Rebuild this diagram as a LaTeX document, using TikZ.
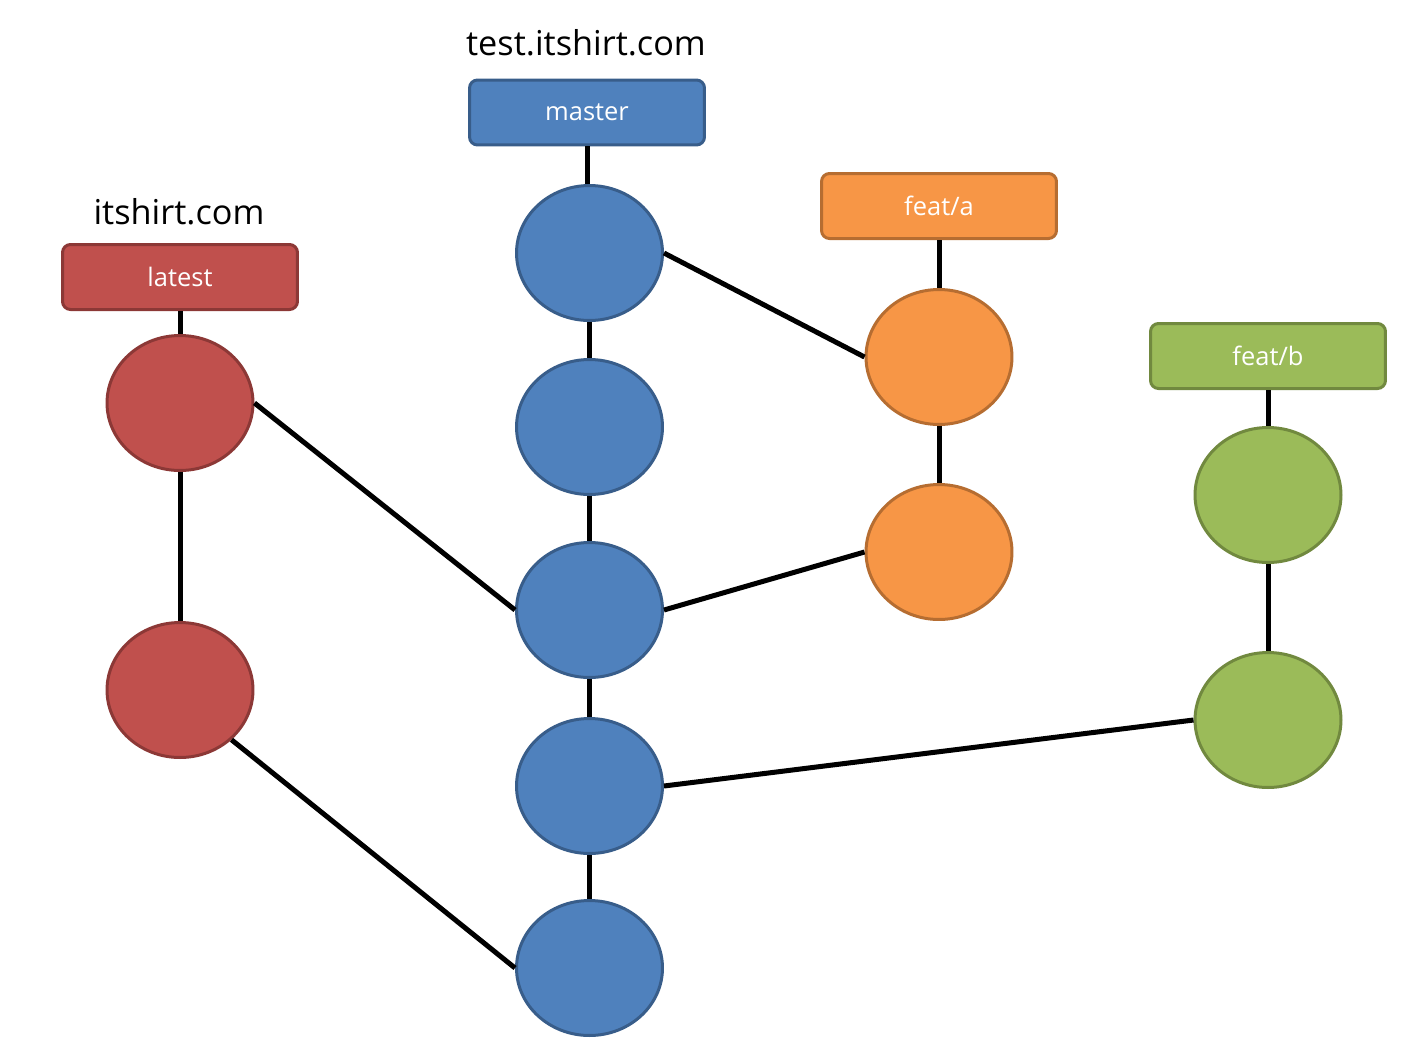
\documentclass[tikz,border=0pt]{standalone}
\usepackage{fontspec}
\setmainfont{Open Sans}
\usetikzlibrary{shapes.geometric}
\definecolor{bluef}{HTML}{4F81BD}\definecolor{blued}{HTML}{385D8A}
\definecolor{redf}{HTML}{C0504D}\definecolor{redd}{HTML}{8C3836}
\definecolor{orf}{HTML}{F79646}\definecolor{ord}{HTML}{B66D31}
\definecolor{grf}{HTML}{9BBB59}\definecolor{grd}{HTML}{71893F}
\tikzset{
  commit/.style={ellipse, draw=#1d, fill=#1f, line width=0.06cm, minimum width=2.92cm, minimum height=2.70cm, inner sep=0pt},
  branch/.style={rectangle, rounded corners=0.16cm, draw=#1d, fill=#1f, line width=0.06cm, minimum width=4.70cm, minimum height=1.30cm, inner sep=0pt, text=white, font=\fontsize{14.5}{16}\selectfont},
  title/.style={font=\fontsize{19.5}{22}\selectfont, text=black, inner sep=0pt},
  link/.style={line width=0.1cm, black}
}
\begin{document}
\begin{tikzpicture}[x=0.02cm,y=-0.02cm]
\useasboundingbox (0,0) rectangle (1416,1062);
% titles
\node[title] (t1) at (586,43) {test.itshirt.com};
\node[title] (t2) at (179,212) {itshirt.com};
% branches
\node[branch=blue] (master) at (587,112.5) {master};
\node[branch=red] (latest) at (180,277) {latest};
\node[branch=or] (fa) at (939,206) {feat/a};
\node[branch=gr] (fb) at (1268,356) {feat/b};
% commits
\node[commit=blue] (b1) at (589.5,253) {};
\node[commit=blue] (b2) at (589.5,427) {};
\node[commit=blue] (b3) at (589.5,610) {};
\node[commit=blue] (b4) at (589.5,786) {};
\node[commit=blue] (b5) at (589.5,968) {};
\node[commit=red] (r1) at (180,403) {};
\node[commit=red] (r2) at (180,690) {};
\node[commit=or] (o1) at (939,357) {};
\node[commit=or] (o2) at (939,552) {};
\node[commit=gr] (g1) at (1268,495) {};
\node[commit=gr] (g2) at (1268,720) {};
% links
\draw[link] (master.south) -- (master.south |- b1.north);
\draw[link] (b1.south) -- (b2.north);
\draw[link] (b2.south) -- (b3.north);
\draw[link] (b3.south) -- (b4.north);
\draw[link] (b4.south) -- (b5.north);
\draw[link] (latest.south) -- (r1.north);
\draw[link] (r1.south) -- (r2.north);
\draw[link] (r1.east) -- (b3.west);
\draw[link] (r2.-44) -- (b5.west);
\draw[link] (fa.south) -- (o1.north);
\draw[link] (o1.south) -- (o2.north);
\draw[link] (b1.east) -- (o1.west);
\draw[link] (o2.west) -- (b3.east);
\draw[link] (fb.south) -- (g1.north);
\draw[link] (g1.south) -- (g2.north);
\draw[link] (g2.west) -- (b4.east);
\end{tikzpicture}
\end{document}
